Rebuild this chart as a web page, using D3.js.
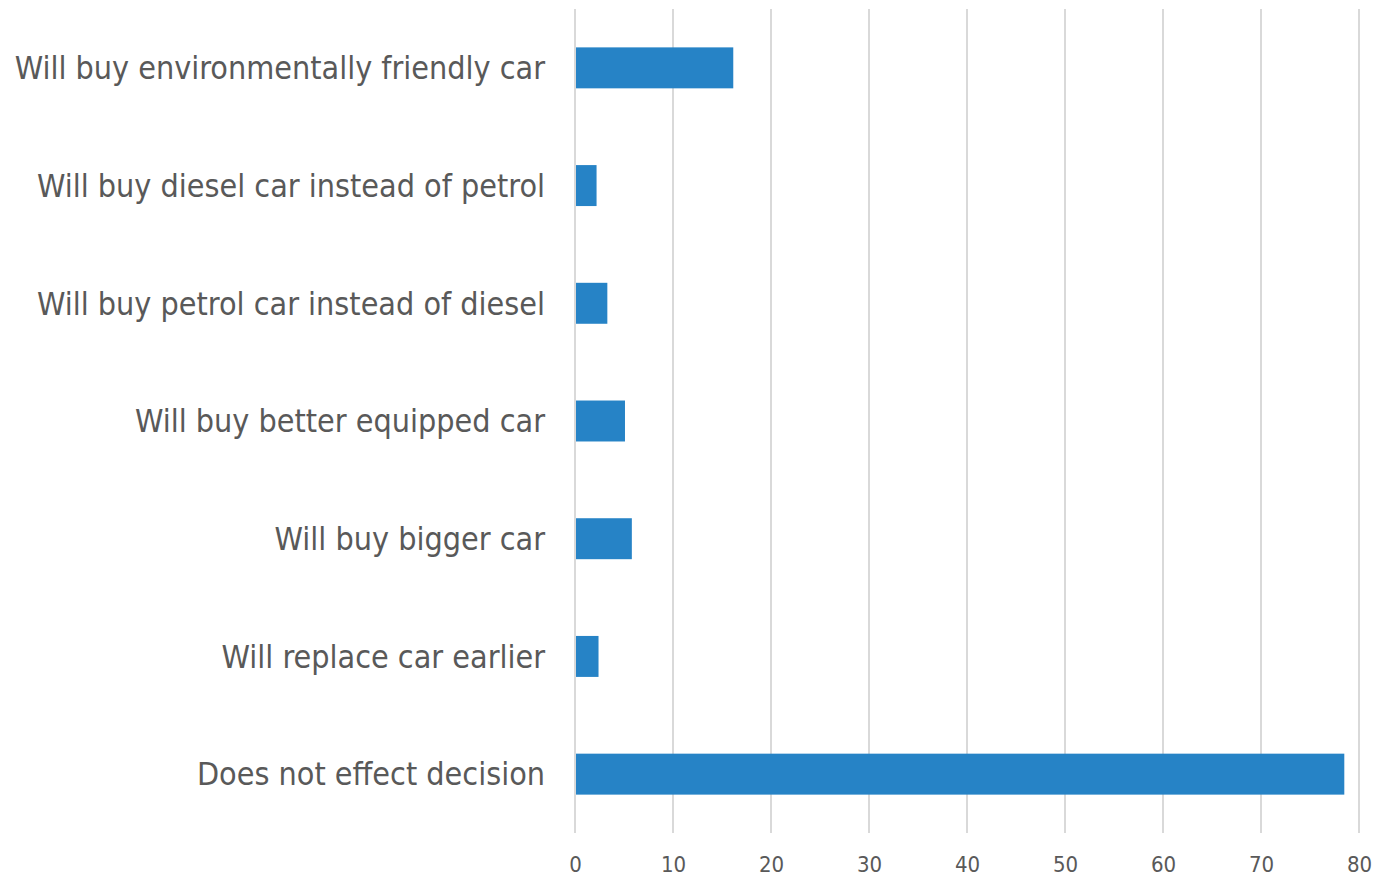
<!DOCTYPE html>
<html>
<head>
<meta charset="utf-8">
<script src="https://cdn.jsdelivr.net/npm/d3@7"></script>
<style>
  body { margin: 0; background: #fff; }
  svg text { font-family: "DejaVu Sans Condensed", "DejaVu Sans", sans-serif; fill: #595959; }
</style>
</head>
<body>
<div id="chart"></div>
<script>
var categories = [
  "Will buy environmentally friendly car",
  "Will buy diesel car instead of petrol",
  "Will buy petrol car instead of diesel",
  "Will buy better equipped car",
  "Will buy bigger car",
  "Will replace car earlier",
  "Does not effect decision"
];
var values = [16.15, 2.2, 3.3, 5.1, 5.8, 2.4, 78.5];
var xTicks = [0, 10, 20, 30, 40, 50, 60, 70, 80];

var width = 1377;
var height = 876;
var plotLeft = 575, plotRight = 1359, plotTop = 9, plotBottom = 833;

var svg = d3.select("#chart")
  .append("svg")
  .attr("width", width)
  .attr("height", height);

var x = d3.scaleLinear()
  .domain([0, 80])
  .range([plotLeft, plotRight]);

var y = d3.scaleBand()
  .domain(categories)
  .range([plotTop, plotBottom])
  .paddingInner(0.652)
  .paddingOuter(0.326);

// vertical gridlines
svg.append("g")
  .selectAll("line")
  .data(xTicks)
  .enter().append("line")
  .attr("x1", d => x(d))
  .attr("x2", d => x(d))
  .attr("y1", plotTop)
  .attr("y2", plotBottom)
  .attr("stroke", "#d9d9d9")
  .attr("stroke-width", 2);

// bars
svg.append("g")
  .selectAll("rect")
  .data(values)
  .enter().append("rect")
  .attr("x", x(0) + 1)
  .attr("y", (d, i) => y(categories[i]))
  .attr("width", d => x(d) - x(0) - 1)
  .attr("height", y.bandwidth())
  .attr("fill", "#2683c6");

// x axis labels
var xAxis = d3.axisBottom(x)
  .tickValues(xTicks)
  .tickSize(0)
  .tickPadding(0);
var gx = svg.append("g")
  .attr("transform", "translate(0," + (plotBottom + 23) + ")")
  .call(xAxis);
gx.select(".domain").remove();
gx.selectAll("text")
  .attr("font-size", "22px")
  .attr("fill", "#595959")
  .style("font-family", "'DejaVu Sans Condensed', sans-serif");

// category labels
var yAxis = d3.axisLeft(y)
  .tickSize(0)
  .tickPadding(0);
var gy = svg.append("g")
  .attr("transform", "translate(" + (plotLeft - 30) + ",1)")
  .call(yAxis);
gy.select(".domain").remove();
gy.selectAll("text")
  .attr("font-size", "32px")
  .attr("fill", "#595959")
  .style("font-family", "'DejaVu Sans Condensed', sans-serif");
</script>
</body>
</html>
